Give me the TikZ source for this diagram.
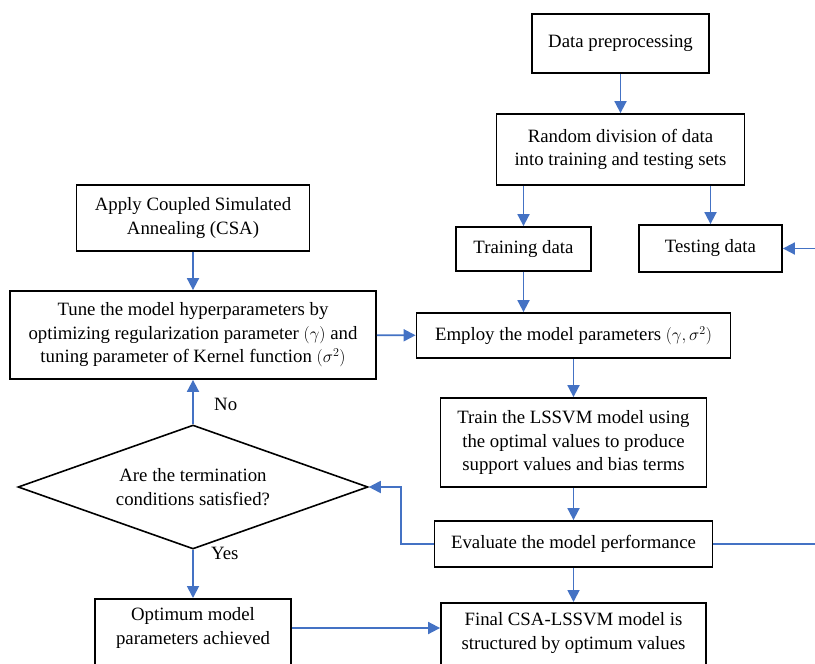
\documentclass[tikz,border=0pt]{standalone}
\usepackage{fontspec}
\setmainfont{Liberation Serif}
\usetikzlibrary{shapes.geometric,arrows.meta}
\definecolor{arrblue}{HTML}{4472C4}
\tikzset{
  box/.style={draw=black, line width=1.8pt, inner sep=0pt, align=center, font=\fontsize{18.8}{23.5}\selectfont},
  txt/.style={inner sep=0pt, align=center, font=\fontsize{18.8}{23.5}\selectfont},
  arr/.style={draw=arrblue, line width=1.8pt, -{Triangle[width=12pt,length=12pt]}},
  ln/.style={draw=arrblue, line width=1.8pt},
}
\begin{document}
\begin{tikzpicture}[x=1pt,y=-1pt]
\clip (0,0) rectangle (815,664);
\fill[white] (0,0) rectangle (815,664);

\node[box, minimum width=177, minimum height=59] (dp) at (620.5,43.5) {Data preprocessing};
\node[box, minimum width=248, minimum height=71] (rd) at (620.5,149.5) {Random division of data\\into training and testing sets};
\node[box, minimum width=135, minimum height=44] (tr) at (523.5,249) {Training data};
\node[box, minimum width=143, minimum height=47] (te) at (710.5,248.5) {Testing data};
\node[box, minimum width=233, minimum height=66] (csa) at (193,218) {Apply Coupled Simulated\\Annealing (CSA)};
\node[box, minimum width=366, minimum height=88] (tune) at (193,335) {Tune the model hyperparameters by\\optimizing regularization parameter $(\gamma)$ and\\tuning parameter of Kernel function $(\sigma^2)$};
\node[box, minimum width=314, minimum height=45] (emp) at (573.5,335.5) {Employ the model parameters $(\gamma,\sigma^2)$};
\node[box, minimum width=266, minimum height=89] (trn) at (573.5,442.5) {Train the LSSVM model using\\the optimal values to produce\\support values and bias terms};
\node[box, minimum width=278, minimum height=46] (ev) at (573.5,544) {Evaluate the model performance};
\node[draw=black, line width=1.6pt, shape=diamond, inner sep=0pt, minimum width=350, minimum height=124, aspect=2.82] (dm) at (193,487) {};
\node[txt] (dmt) at (193,487) {Are the termination\\conditions satisfied?};

\node[box, minimum width=196, minimum height=100, anchor=north] (opt) at (193,598) {};
\node[txt] (optt) at (193,628) {Optimum model\\parameters achieved};
\node[box, minimum width=265, minimum height=100, anchor=north] (fin) at (573.5,602) {};
\node[txt] (fint) at (573.5,633) {Final CSA-LSSVM model is\\structured by optimum values};

\coordinate (r1) at (830,544);
\coordinate (r2) at (830,248.5);

\draw[arr] (dp) -- (rd);
\draw[arr] (rd.south -| tr) -- (tr);
\draw[arr] (rd.south -| te) -- (te);
\draw[arr] (r2) -- (te.east);
\draw[arr] (tr) -- (tr |- emp.north);
\draw[arr] (csa) -- (tune);
\draw[arr] (tune) -- (emp);
\draw[arr] (emp) -- (trn);
\draw[arr] (trn) -- (ev);
\draw[ln] (ev.east) -- (r1);
\draw[arr] (ev.west) -- ++(-33,0) |- (dm.east);
\draw[arr] (dm.north) -- (tune.south);
\draw[arr] (dm.south) -- (opt.north);
\draw[arr] (ev.south) -- (fin.north);
\draw[arr] (opt.east |- optt) -- (fin.west |- optt);

\node[txt, anchor=west] (no) at (214,404) {No};
\node[txt, anchor=west] (yes) at (211,553) {Yes};
\end{tikzpicture}
\end{document}
